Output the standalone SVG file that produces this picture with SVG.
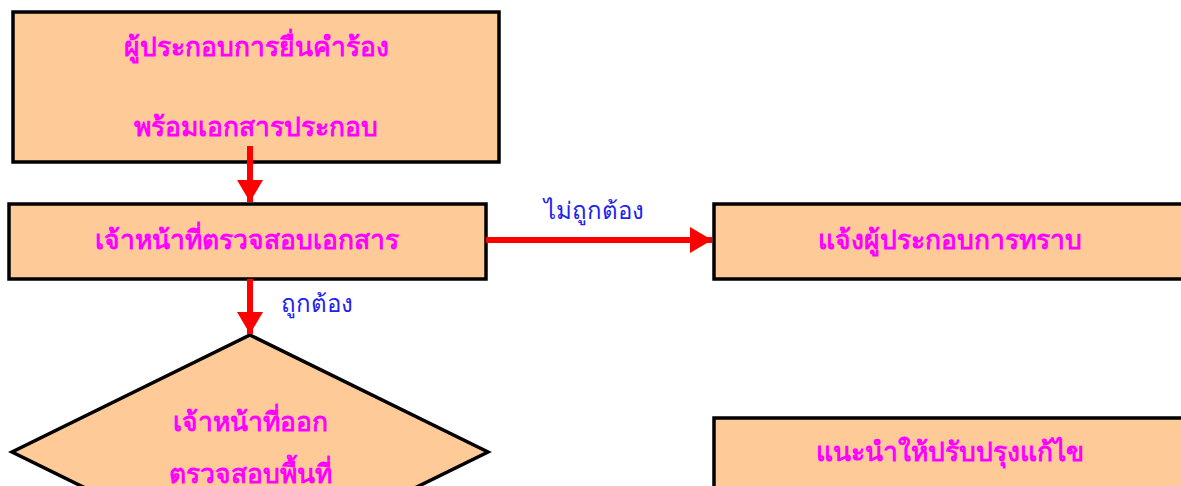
<svg xmlns="http://www.w3.org/2000/svg" width="1181" height="486" viewBox="0 0 1181 486">
<style>
.box{fill:#FECB98;stroke:#000;stroke-width:3.5}
.t{font-family:"Noto Sans","Liberation Sans",sans-serif;font-weight:bold;font-size:26.5px;fill:#FF00FF;text-anchor:middle;dominant-baseline:central}
.l{font-family:"Noto Sans","Liberation Sans",sans-serif;font-size:24px;fill:#2222EE;text-anchor:middle;dominant-baseline:central}
.c{stroke:#FF0000;stroke-width:6;fill:none}
</style>
<defs>
<marker id="ah" markerUnits="userSpaceOnUse" markerWidth="24" markerHeight="26" refX="22" refY="13" orient="auto">
<path d="M0,0 L22,13 L0,26 Z" fill="#FF0000"/>
</marker>
</defs>
<g id="n1"><rect class="box" x="13" y="12" width="486" height="150"/><text class="t" x="256" y="46">ผู้ประกอบการยื่นคำร้อง</text><text class="t" x="256" y="126">พร้อมเอกสารประกอบ</text></g>
<g id="n2"><rect class="box" x="9" y="204" width="477" height="75"/><text class="t" x="247" y="239">เจ้าหน้าที่ตรวจสอบเอกสาร</text></g>
<g id="n3"><rect class="box" x="714" y="204" width="480" height="75"/><text class="t" x="950" y="239">แจ้งผู้ประกอบการทราบ</text></g>
<g id="n4"><polygon class="box" points="250,335 488,452 250,569 12,452"/><text class="t" x="250" y="421">เจ้าหน้าที่ออก</text><text class="t" x="250" y="473">ตรวจสอบพื้นที่</text></g>
<g id="n5"><rect class="box" x="714" y="418" width="480" height="100"/><text class="t" x="950" y="451">แนะนำให้ปรับปรุงแก้ไข</text></g>
<g id="connectors">
<line class="c" x1="250" y1="146" x2="250" y2="202" marker-end="url(#ah)"/>
<line class="c" x1="486" y1="240" x2="712" y2="240" marker-end="url(#ah)"/>
<line class="c" x1="250" y1="279" x2="250" y2="334" marker-end="url(#ah)"/>
<text class="l" x="594" y="209">ไม่ถูกต้อง</text>
<text class="l" x="317" y="302">ถูกต้อง</text>
</g>
</svg>
